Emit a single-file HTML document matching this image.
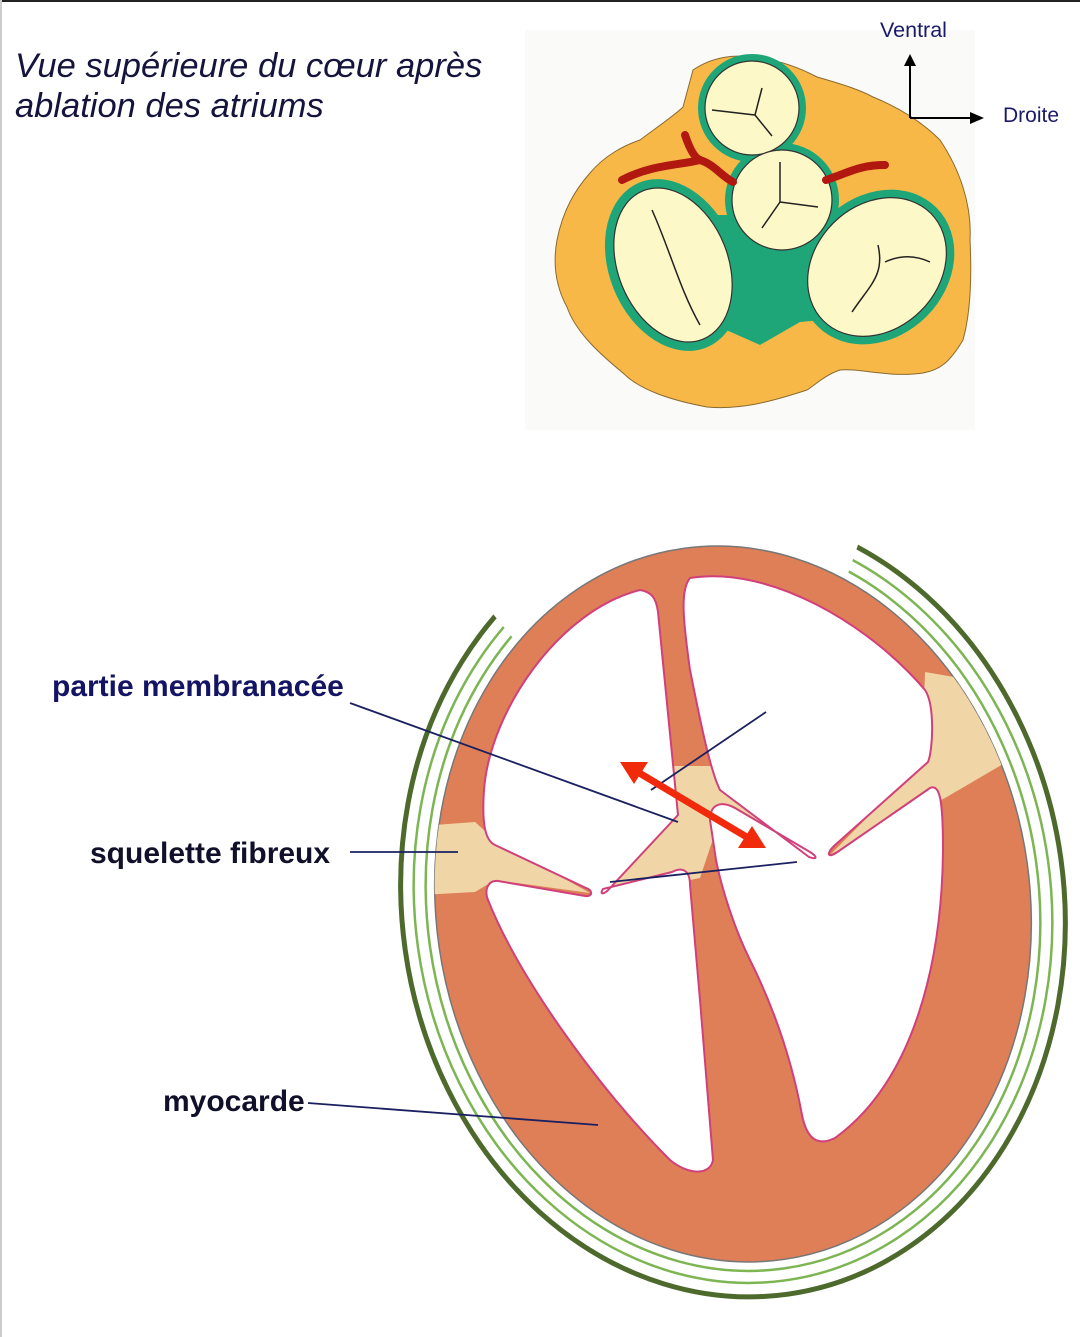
<!DOCTYPE html>
<html><head><meta charset="utf-8"><style>
html,body{margin:0;padding:0;background:#fff;}
body{width:1080px;height:1337px;overflow:hidden;position:relative;}
</style></head><body>
<svg width="1080" height="1337" viewBox="0 0 1080 1337" xmlns="http://www.w3.org/2000/svg" style="position:absolute;left:0;top:0">
<defs>
<clipPath id="c"><polygon points="733,904 225,290 0,290 0,1337 1080,1337 1080,180 985,180"/></clipPath>
<clipPath id="ell"><ellipse cx="733" cy="904" rx="297" ry="359" transform="rotate(-8 733 904)"/></clipPath>
</defs>
<rect x="0" y="0" width="1080" height="2" fill="#222"/>
<rect x="0" y="0" width="2" height="1337" fill="#ccc"/>
<rect x="525" y="30" width="450" height="400" fill="#fafaf8"/>
<text x="15" y="77" font-family="Liberation Sans, sans-serif" font-style="italic" font-size="34.5" fill="#14143c">Vue supérieure du cœur après</text>
<text x="15" y="117" font-family="Liberation Sans, sans-serif" font-style="italic" font-size="34.5" fill="#14143c">ablation des atriums</text>

<!-- top heart -->
<path d="M693,70 C715,55 740,55 747,57 C775,58 800,68 817,77 C845,85 860,90 873,97 C905,110 925,125 940,140 C960,170 972,205 970,240 C972,280 970,315 963,340 C950,362 940,370 923,373 C890,378 860,368 840,370 C825,375 815,385 807,390 C770,402 740,410 707,407 C670,400 640,390 623,373 C595,350 575,330 567,307 C555,285 553,262 557,240 C563,210 575,190 590,173 C605,155 625,145 640,140 C660,125 675,115 683,107 Z" fill="#f8b848" stroke="#8a6a30" stroke-width="1"/>
<g fill="#1ea678">
<circle cx="752" cy="108" r="54"/>
<circle cx="782" cy="200" r="57"/>
<ellipse cx="673" cy="265" rx="64" ry="89" transform="rotate(-22 673 265)"/>
<ellipse cx="877" cy="267" rx="70" ry="84" transform="rotate(45 877 267)"/>
<path d="M710,215 L850,215 L845,318 L800,322 L760,345 L715,325 Z"/>
</g>
<g fill="#fdf8c8" stroke="#333" stroke-width="1.2">
<ellipse cx="673" cy="265" rx="55" ry="80" transform="rotate(-22 673 265)"/>
<ellipse cx="877" cy="267" rx="62" ry="76" transform="rotate(45 877 267)"/>
<circle cx="752" cy="108" r="47"/>
<circle cx="782" cy="200" r="50"/>
</g>
<g stroke="#222" stroke-width="1.5" fill="none">
<path d="M712,110 L755,115 L762,88 M755,115 L772,136"/>
<path d="M780,162 L780,202 L762,228 M780,202 L818,207"/>
<path d="M652,210 C670,250 680,290 700,325"/>
<path d="M852,312 C870,285 885,275 878,245 M885,262 C900,255 915,255 930,262"/>
</g>
<g stroke="#b01810" stroke-width="8" fill="none" stroke-linecap="round">
<path d="M622,180 C650,165 680,165 700,160 C715,165 720,175 733,182"/>
<path d="M685,135 C690,150 695,158 700,160"/>
<path d="M826,180 C850,172 860,165 885,165"/>
</g>
<g stroke="#000" stroke-width="2" fill="none">
<path d="M910,118 L910,62 M910,118 L975,118"/>
</g>
<path d="M904,66 L910,54 L916,66 Z M970,112 L984,118 L970,124 Z" fill="#000"/>
<text x="880" y="37" font-family="Liberation Sans, sans-serif" font-size="21.5" fill="#1a1a6a">Ventral</text>
<text x="1003" y="122" font-family="Liberation Sans, sans-serif" font-size="21" fill="#1a1a6a">Droite</text>

<!-- bottom heart -->
<g clip-path="url(#c)" fill="none">
<ellipse cx="733" cy="904" rx="331" ry="394" transform="rotate(-8 733 904)" stroke="#4d6a2c" stroke-width="5"/>
<ellipse cx="733" cy="904" rx="318" ry="380" transform="rotate(-8 733 904)" stroke="#7cb552" stroke-width="2.5"/>
<ellipse cx="733" cy="904" rx="306" ry="368" transform="rotate(-8 733 904)" stroke="#7cb552" stroke-width="2.5"/>
</g>
<ellipse cx="733" cy="904" rx="297" ry="359" transform="rotate(-8 733 904)" fill="#df7f58" stroke="#777" stroke-width="1.5"/>
<g fill="#f0d5a6" clip-path="url(#ell)">
<path d="M420,826 L475,822 L495,840 L590,893 L495,880 L475,892 L420,895 Z"/>
<path d="M925,672 L960,678 L1010,760 L945,798 L831,854 L922,762 Z"/>
<path d="M672,766 L712,766 L815,858 L712,842 L700,878 L603,898 Z"/>
</g>
<g fill="#fff" stroke="#d0407a" stroke-width="2" stroke-linejoin="round">
<path d="M640,590 C652,592 656,598 658,612 L678,815 L610,888 C604,895 599,895 603,889 L672,872 C684,866 690,872 690,885 L700,1000 L713,1160 C710,1176 688,1175 670,1160 C600,1090 520,980 488,900 C484,890 488,880 498,881 L585,896 C593,897 593,890 586,888 L495,845 C484,840 482,820 484,790 C490,710 560,610 640,590 Z"/>
<path d="M690,578 C770,565 870,625 925,690 C935,705 933,750 928,762 L834,846 C826,854 828,858 836,853 L930,788 C940,784 943,800 943,850 C942,960 915,1080 835,1138 C815,1148 806,1135 802,1115 C790,1050 770,1000 750,960 C735,930 722,890 716,860 L710,820 C710,805 720,800 735,808 L810,852 C818,857 817,860 809,857 L720,790 C710,770 700,720 690,670 C683,620 680,590 690,578 Z"/>
</g>
<g stroke="#1a2060" stroke-width="1.8">
<line x1="350" y1="703" x2="678" y2="822"/>
<line x1="350" y1="852" x2="458" y2="852"/>
<line x1="308" y1="1103" x2="598" y2="1125"/>
<line x1="766" y1="712" x2="651" y2="790"/>
<line x1="610" y1="882" x2="797" y2="862"/>
</g>
<line x1="636" y1="771" x2="750" y2="839" stroke="#f02a0a" stroke-width="7"/>
<path d="M620,762 L648,762 L634,784 Z M766,848 L738,848 L752,826 Z" fill="#f02a0a"/>
<g font-family="Liberation Sans, sans-serif" font-weight="bold" font-size="30">
<text x="52" y="696" fill="#141464">partie membranacée</text>
<text x="90" y="863" fill="#10102a">squelette fibreux</text>
<text x="163" y="1111" fill="#10102a">myocarde</text>
</g>
</svg>
</body></html>
